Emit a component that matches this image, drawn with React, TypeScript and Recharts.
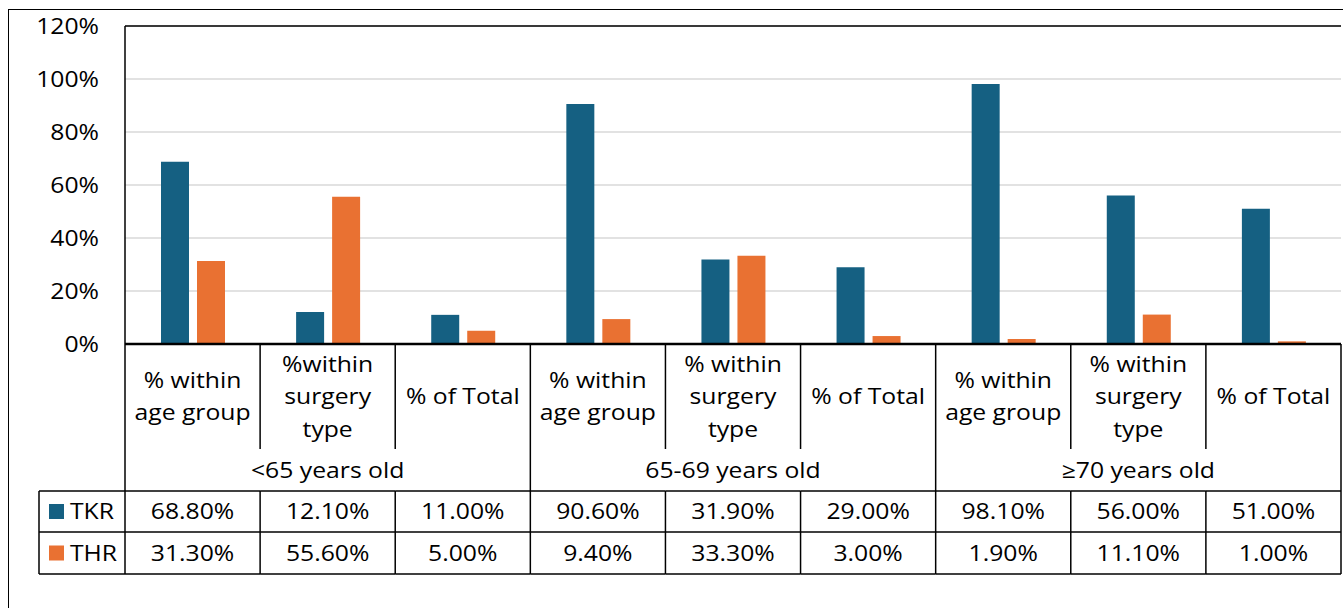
import { BarChart, Bar, XAxis, YAxis, CartesianGrid, ReferenceLine } from "recharts";

// ── Data ──────────────────────────────────────────────────────────────────
const groups = ["<65 years old", "65-69 years old", "≥70 years old"];
const categories = [
  "% within\nage group", "%within\nsurgery\ntype", "% of Total",
  "% within\nage group", "% within\nsurgery\ntype", "% of Total",
  "% within\nage group", "% within\nsurgery\ntype", "% of Total",
];
const tkr = [68.8, 12.1, 11.0, 90.6, 31.9, 29.0, 98.1, 56.0, 51.0];
const thr = [31.3, 55.6, 5.0, 9.4, 33.3, 3.0, 1.9, 11.1, 1.0];
const yTicks = [0, 20, 40, 60, 80, 100, 120];

const series = [
  { key: "TKR", color: "#156082", values: tkr },
  { key: "THR", color: "#E97132", values: thr },
];

const data = categories.map((label, i) => ({
  id: `c${i}`,
  label,
  group: groups[Math.floor(i / 3)],
  TKR: tkr[i],
  THR: thr[i],
}));

// ── Layout ────────────────────────────────────────────────────────────────
const W = 1343;
const H = 608;
const TABLE_H = 264;
const M = { top: 26, right: 2, left: 0, bottom: 0 };
const Y_AXIS_W = 125;
const PLOT_LEFT = M.left + Y_AXIS_W;
const PLOT_RIGHT = W - M.right;
const PLOT_BOTTOM = H - TABLE_H;
const HALF = (PLOT_RIGHT - PLOT_LEFT) / categories.length / 2;

const LABEL_MID = 396.5;
const LINE_H = 32.5;
const SEP_END = 449;
const GROUP_Y = 470;
const ROW_TOP = [491, 532];
const ROW_BOTTOM = 574;
const LEGEND_LEFT = 39;

const FONT = "'Open Sans', sans-serif";
const FS = 21.5;
const STRETCH = 1.15;
const INK = "#000";

// text stretched horizontally around its anchor point
function T({ x, y, anchor = "middle", children }: { x: number; y: number; anchor?: string; children: any }) {
  return (
    <text
      x={x}
      y={y}
      dy="0.36em"
      textAnchor={anchor}
      fontFamily={FONT}
      fontSize={FS}
      fill={INK}
      transform={`translate(${x} ${y}) scale(${STRETCH} 1) translate(${-x} ${-y})`}
    >
      {children}
    </text>
  );
}

function Line({ x1, y1, x2, y2 }: { x1: number; y1: number; x2: number; y2: number }) {
  return <line x1={x1} y1={y1} x2={x2} y2={y2} stroke={INK} strokeWidth={1.5} />;
}

function YTick(props: any) {
  const { y, payload } = props;
  return (
    <T x={99} y={y} anchor="end">
      {`${payload.value}%`}
    </T>
  );
}

// each x tick draws its own column of the data table underneath
function TableColumn(props: any) {
  const { x, index } = props;
  const row = data[index];
  const lines = row.label.split("\n");
  const l = x - HALF;
  const r = x + HALF;
  const groupEdge = index % 3 === 2;

  return (
    <g>
      {lines.map((t: string, k: number) => (
        <T key={k} x={x} y={LABEL_MID + (k - (lines.length - 1) / 2) * LINE_H}>
          {t}
        </T>
      ))}

      {index % 3 === 1 && <T x={x} y={GROUP_Y}>{row.group}</T>}

      {series.map((s, k) => (
        <T key={s.key} x={x} y={(ROW_TOP[k] + (ROW_TOP[k + 1] ?? ROW_BOTTOM)) / 2}>
          {`${s.values[index].toFixed(2)}%`}
        </T>
      ))}

      {/* cell borders */}
      {ROW_TOP.map((yy) => <Line key={yy} x1={l} y1={yy} x2={r} y2={yy} />)}
      <Line x1={l} y1={ROW_BOTTOM} x2={r} y2={ROW_BOTTOM} />
      {groupEdge ? (
        <Line x1={r} y1={PLOT_BOTTOM} x2={r} y2={ROW_BOTTOM} />
      ) : (
        <>
          <Line x1={r} y1={PLOT_BOTTOM} x2={r} y2={SEP_END} />
          <Line x1={r} y1={ROW_TOP[0]} x2={r} y2={ROW_BOTTOM} />
        </>
      )}

      {index === 0 && (
        <g>
          <Line x1={l} y1={PLOT_BOTTOM} x2={l} y2={ROW_BOTTOM} />
          <Line x1={LEGEND_LEFT} y1={ROW_TOP[0]} x2={l} y2={ROW_TOP[0]} />
          <Line x1={LEGEND_LEFT} y1={ROW_TOP[1]} x2={l} y2={ROW_TOP[1]} />
          <Line x1={LEGEND_LEFT} y1={ROW_BOTTOM} x2={l} y2={ROW_BOTTOM} />
          <Line x1={LEGEND_LEFT} y1={ROW_TOP[0]} x2={LEGEND_LEFT} y2={ROW_BOTTOM} />
          {series.map((s, k) => {
            const cy = (ROW_TOP[k] + (ROW_TOP[k + 1] ?? ROW_BOTTOM)) / 2;
            return (
              <g key={s.key}>
                <rect x={49} y={cy - 7.5} width={15} height={15} fill={s.color} />
                <T x={70} y={cy} anchor="start">{s.key}</T>
              </g>
            );
          })}
        </g>
      )}
    </g>
  );
}

export default function App() {
  return (
    <div style={{ position: "absolute", left: 0, top: 0, width: W, height: H, background: "#fff", overflow: "hidden" }}>
      <div
        style={{
          position: "absolute",
          left: 8,
          top: 9,
          width: W,
          height: H,
          border: "1.5px solid #000",
          boxSizing: "border-box",
        }}
      />
      <div style={{ position: "absolute", left: 0, top: 0 }}>
        <BarChart width={W} height={H} data={data} margin={M} barGap={8}>
          <CartesianGrid yAxisId="left" vertical={false} stroke="#d9d9d9" strokeWidth={1.5} />
          <XAxis
            dataKey="id"
            interval={0}
            tickLine={false}
            axisLine={{ stroke: INK, strokeWidth: 2.5 }}
            height={TABLE_H}
            tick={<TableColumn />}
          />
          <YAxis
            yAxisId="left"
            width={Y_AXIS_W}
            domain={[0, 120]}
            ticks={yTicks}
            interval={0}
            tickLine={false}
            axisLine={{ stroke: INK, strokeWidth: 1.5 }}
            tick={<YTick />}
          />
          <YAxis yAxisId="right" orientation="right" width={0} tick={false} tickLine={false} axisLine={{ stroke: INK, strokeWidth: 1.5 }} />
          <ReferenceLine yAxisId="left" y={120} stroke={INK} strokeWidth={1.5} />
          {series.map((s) => (
            <Bar
              key={s.key}
              yAxisId="left"
              dataKey={s.key}
              fill={s.color}
              barSize={28}
              isAnimationActive={false}
            />
          ))}
        </BarChart>
      </div>
    </div>
  );
}
